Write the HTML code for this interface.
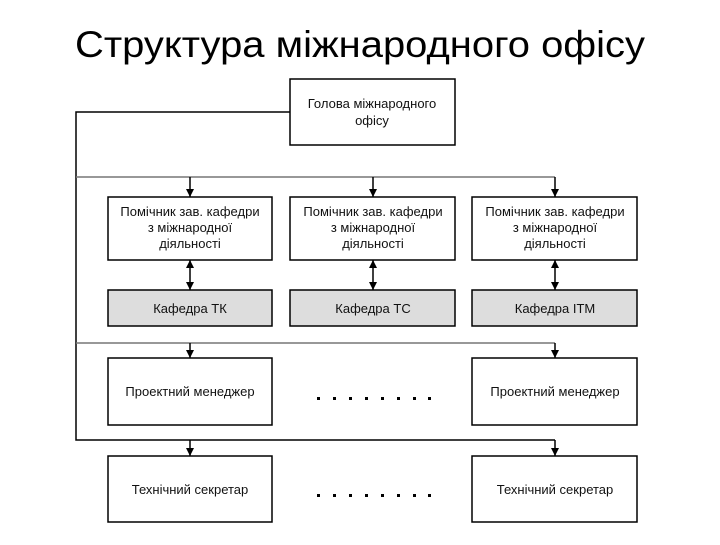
<!DOCTYPE html>
<html><head><meta charset="utf-8"><style>
body{margin:0;background:#fff;}
.t{font-family:"Liberation Sans",sans-serif;}
</style></head><body>
<svg width="720" height="540" xmlns="http://www.w3.org/2000/svg" class="t">
<defs><marker id="a" viewBox="0 0 10 10" refX="10" refY="5" markerWidth="8" markerHeight="10" markerUnits="userSpaceOnUse" orient="auto"><path d="M0,0L10,5L0,10z" fill="#000"/></marker></defs>
<text x="360" y="57" font-size="37" text-anchor="middle" textLength="570" lengthAdjust="spacingAndGlyphs">Структура міжнародного офісу</text>
<g fill="none" stroke="#000" stroke-width="1.5">
<path d="M290,112H76V440H555"/>
<path d="M76,177H555M76,343H555" stroke="#777"/>
</g>
<g stroke="#000" stroke-width="1.5" marker-end="url(#a)">
<line x1="190" y1="177" x2="190" y2="197"/><line x1="373" y1="177" x2="373" y2="197"/><line x1="555" y1="177" x2="555" y2="197"/>
<line x1="190" y1="343" x2="190" y2="358"/><line x1="555" y1="343" x2="555" y2="358"/>
<line x1="190" y1="440" x2="190" y2="456"/><line x1="555" y1="440" x2="555" y2="456"/>
<line x1="190" y1="275" x2="190" y2="290"/><line x1="373" y1="275" x2="373" y2="290"/><line x1="555" y1="275" x2="555" y2="290"/>
<line x1="190" y1="275" x2="190" y2="260"/><line x1="373" y1="275" x2="373" y2="260"/><line x1="555" y1="275" x2="555" y2="260"/>
</g>
<g stroke="#000" stroke-width="1.5" fill="#fff">
<rect x="290" y="79" width="165" height="66"/>
<rect x="108" y="197" width="164" height="63"/><rect x="290" y="197" width="165" height="63"/><rect x="472" y="197" width="165" height="63"/>
<rect x="108" y="290" width="164" height="36" fill="#ddd"/><rect x="290" y="290" width="165" height="36" fill="#ddd"/><rect x="472" y="290" width="165" height="36" fill="#ddd"/>
<rect x="108" y="358" width="164" height="67"/><rect x="472" y="358" width="165" height="67"/>
<rect x="108" y="456" width="164" height="66"/><rect x="472" y="456" width="165" height="66"/>
</g>
<g font-size="13" text-anchor="middle" fill="#111">
<text x="372" y="108">Голова міжнародного</text><text x="372" y="125">офісу</text>
<text x="190" y="216">Помічник зав. кафедри</text><text x="190" y="232">з міжнародної</text><text x="190" y="248">діяльності</text>
<text x="373" y="216">Помічник зав. кафедри</text><text x="373" y="232">з міжнародної</text><text x="373" y="248">діяльності</text>
<text x="555" y="216">Помічник зав. кафедри</text><text x="555" y="232">з міжнародної</text><text x="555" y="248">діяльності</text>
<text x="190" y="313">Кафедра ТК</text><text x="373" y="313">Кафедра ТС</text><text x="555" y="313">Кафедра ІТМ</text>
<text x="190" y="396">Проектний менеджер</text><text x="555" y="396">Проектний менеджер</text>
<text x="190" y="494">Технічний секретар</text><text x="555" y="494">Технічний секретар</text>
</g>
<g fill="#000">
<rect x="317" y="397" width="3" height="3"/><rect x="333" y="397" width="3" height="3"/><rect x="349" y="397" width="3" height="3"/><rect x="365" y="397" width="3" height="3"/><rect x="381" y="397" width="3" height="3"/><rect x="397" y="397" width="3" height="3"/><rect x="413" y="397" width="3" height="3"/><rect x="428" y="397" width="3" height="3"/>
<rect x="317" y="494" width="3" height="3"/><rect x="333" y="494" width="3" height="3"/><rect x="349" y="494" width="3" height="3"/><rect x="365" y="494" width="3" height="3"/><rect x="381" y="494" width="3" height="3"/><rect x="397" y="494" width="3" height="3"/><rect x="413" y="494" width="3" height="3"/><rect x="428" y="494" width="3" height="3"/>
</g>
</svg>
</body></html>
